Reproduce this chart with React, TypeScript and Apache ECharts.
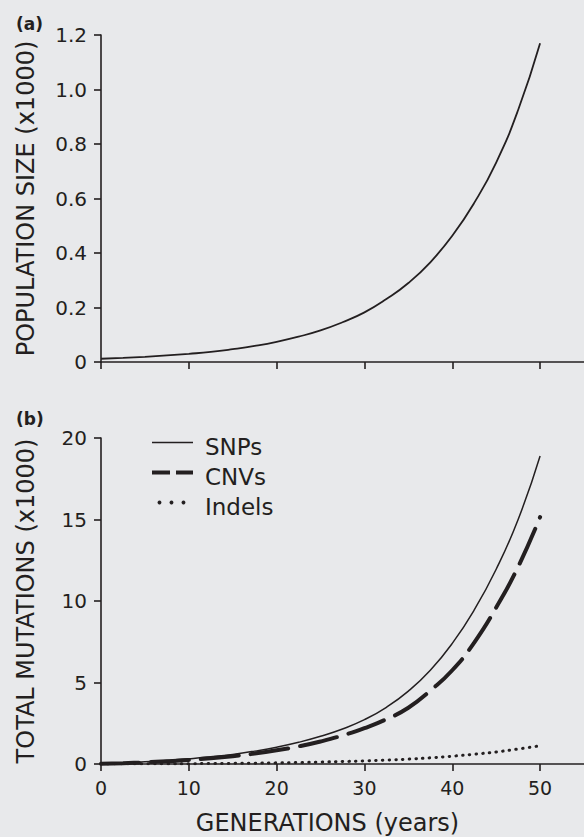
import React, { useEffect, useRef } from "react";
import * as echarts from "echarts";

const generations = [0, 2.5, 5, 7.5, 10, 12.5, 15, 17.5, 20, 22.5, 25, 27.5, 30, 32.5, 35, 37.5, 40, 42.5, 45, 47.5, 50];
const populationSize = [0.012, 0.015, 0.019, 0.024, 0.03, 0.037, 0.047, 0.059, 0.074, 0.093, 0.116, 0.146, 0.182, 0.231, 0.29, 0.366, 0.463, 0.584, 0.732, 0.925, 1.17];
const snps = [0.03, 0.08, 0.14, 0.22, 0.32, 0.44, 0.59, 0.79, 1.03, 1.33, 1.7, 2.15, 2.72, 3.48, 4.47, 5.75, 7.4, 9.45, 11.95, 15.0, 18.9];
const cnvs = [0.02, 0.05, 0.1, 0.17, 0.25, 0.35, 0.48, 0.64, 0.84, 1.08, 1.38, 1.75, 2.2, 2.75, 3.45, 4.5, 5.75, 7.45, 9.6, 12.1, 15.15];
const indels = [0.0, 0.01, 0.01, 0.02, 0.02, 0.03, 0.04, 0.05, 0.07, 0.09, 0.12, 0.15, 0.19, 0.24, 0.3, 0.38, 0.48, 0.6, 0.74, 0.92, 1.12];
const xTicks = [0, 10, 20, 30, 40, 50];
const seriesNames = ["SNPs", "CNVs", "Indels"];

const INK = "#231f20";
const BG = "#e8e9eb";
const FONT = "DejaVu Sans";

export default function App() {
  const ref = useRef<HTMLDivElement>(null);
  useEffect(() => {
    if (!ref.current) return;
    const chart = echarts.init(ref.current, undefined, { renderer: "svg" });
    const pair = (ys: number[]) => generations.map((g, i) => [g, ys[i]]);
    const xAxisBase = (gridIndex: number, showLabels: boolean) => ({
      type: "value",
      gridIndex,
      min: 0,
      max: 55,
      interval: 10,
      axisLine: { show: true, onZero: false, lineStyle: { color: INK, width: 1.6 } },
      axisTick: { show: true, length: 7, lineStyle: { color: INK, width: 1.6 }, customValues: xTicks },
      axisLabel: {
        show: showLabels,
        margin: 14,
        color: INK,
        fontSize: 19,
        fontFamily: FONT,
        customValues: xTicks,
        formatter: (v: number) => (xTicks.includes(v) ? String(v) : ""),
      },
      splitLine: { show: false },
    });
    const yAxisCommon = {
      axisLine: { show: true, lineStyle: { color: INK, width: 1.6 } },
      axisTick: { show: true, length: 7, lineStyle: { color: INK, width: 1.6 } },
      splitLine: { show: false },
      nameLocation: "middle",
      nameGap: 63,
      nameTextStyle: { color: INK, fontSize: 24, fontFamily: FONT },
    };
    // legend key glyphs (drawn next to the legend texts)
    const keyX0 = 152;
    const keyX1 = 193;
    const rowY = [442.5, 472.5, 502.5];
    const legendKeys = [
      { type: "line", shape: { x1: keyX0, y1: rowY[0], x2: keyX1, y2: rowY[0] }, style: { stroke: INK, lineWidth: 1.5 } },
      { type: "line", shape: { x1: keyX0, y1: rowY[1], x2: keyX1, y2: rowY[1] }, style: { stroke: INK, lineWidth: 4, lineDash: [18, 6] } },
      ...[159.5, 171.5, 183.5].map((cx) => ({
        type: "circle",
        shape: { cx, cy: rowY[2], r: 1.9 },
        style: { fill: INK },
      })),
    ];
    chart.setOption({
      animation: false,
      backgroundColor: BG,
      textStyle: { fontFamily: FONT, color: INK },
      grid: [
        { left: 101, top: 35, width: 491, height: 327 },
        { left: 101, top: 438, width: 488, height: 326 },
      ],
      xAxis: [
        xAxisBase(0, false),
        {
          ...xAxisBase(1, true),
          name: "GENERATIONS (years)",
          nameLocation: "middle",
          nameGap: 47,
          nameTextStyle: { color: INK, fontSize: 24, fontFamily: FONT, padding: [0, 30, 0, 0] },
        },
      ],
      yAxis: [
        {
          type: "value",
          gridIndex: 0,
          min: 0,
          max: 1.2,
          interval: 0.2,
          name: "POPULATION SIZE (x1000)",
          ...yAxisCommon,
          axisLabel: {
            margin: 14,
            color: INK,
            fontSize: 20,
            fontFamily: FONT,
            formatter: (v: number) => (v === 0 ? "0" : v.toFixed(1)),
          },
        },
        {
          type: "value",
          gridIndex: 1,
          min: 0,
          max: 20,
          interval: 5,
          name: "TOTAL MUTATIONS (x1000)",
          ...yAxisCommon,
          axisLabel: { margin: 14, color: INK, fontSize: 20, fontFamily: FONT },
        },
      ],
      legend: {
        data: seriesNames,
        orient: "vertical",
        left: 152,
        top: 430,
        icon: "rect",
        itemWidth: 41,
        itemHeight: 14,
        itemGap: 7,
        itemStyle: { color: "rgba(0,0,0,0)", borderWidth: 0 },
        textStyle: { color: INK, fontSize: 23, fontFamily: FONT, lineHeight: 23, padding: [0, 0, 0, 2] },
      },
      graphic: [
        { type: "text", left: 16, top: 15, style: { text: "(a)", fontSize: 17, fontWeight: "bold", fontFamily: FONT, fill: INK } },
        { type: "text", left: 16, top: 410, style: { text: "(b)", fontSize: 17, fontWeight: "bold", fontFamily: FONT, fill: INK } },
        ...legendKeys,
      ],
      series: [
        {
          name: "Population",
          type: "line",
          xAxisIndex: 0,
          yAxisIndex: 0,
          data: pair(populationSize),
          smooth: true,
          symbol: "none",
          lineStyle: { color: INK, width: 1.8 },
        },
        {
          name: "SNPs",
          type: "line",
          xAxisIndex: 1,
          yAxisIndex: 1,
          data: pair(snps),
          smooth: true,
          symbol: "none",
          itemStyle: { color: INK },
          lineStyle: { color: INK, width: 1.5 },
        },
        {
          name: "CNVs",
          type: "line",
          xAxisIndex: 1,
          yAxisIndex: 1,
          data: pair(cnvs),
          smooth: true,
          symbol: "none",
          itemStyle: { color: INK },
          lineStyle: { color: INK, width: 4, type: [38, 12], cap: "round" },
        },
        {
          name: "Indels",
          type: "line",
          xAxisIndex: 1,
          yAxisIndex: 1,
          data: pair(indels),
          smooth: true,
          symbol: "none",
          itemStyle: { color: INK },
          lineStyle: { color: INK, width: 3, type: [0.5, 6.2], cap: "round" },
        },
      ],
    });
    return () => chart.dispose();
  }, []);
  return (
    <div
      ref={ref}
      style={{ position: "absolute", left: 0, top: 0, width: 584, height: 837, background: BG }}
    />
  );
}
